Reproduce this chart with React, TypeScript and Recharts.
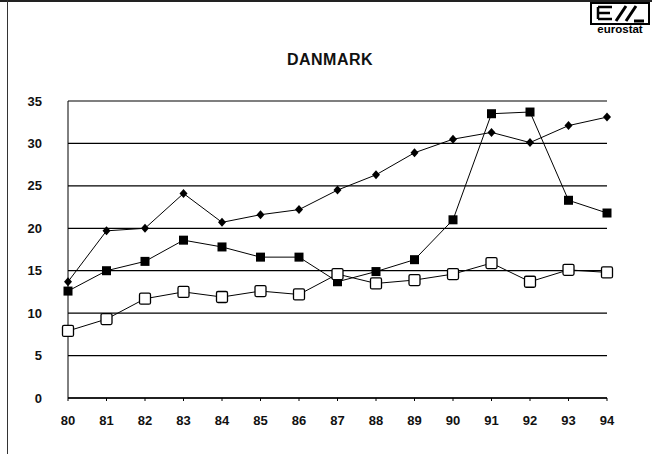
import { LineChart, Line, XAxis, YAxis, CartesianGrid } from 'recharts'

const years = ['80', '81', '82', '83', '84', '85', '86', '87', '88', '89', '90', '91', '92', '93', '94']
const diamondValues = [13.7, 19.7, 20.0, 24.1, 20.7, 21.6, 22.2, 24.5, 26.3, 28.9, 30.5, 31.3, 30.1, 32.1, 33.1]
const filledSquareValues = [12.6, 15.0, 16.1, 18.6, 17.8, 16.6, 16.6, 13.7, 14.9, 16.3, 21.0, 33.5, 33.7, 23.3, 21.8]
const openSquareValues = [7.9, 9.3, 11.7, 12.5, 11.9, 12.6, 12.2, 14.6, 13.5, 13.9, 14.6, 15.9, 13.7, 15.1, 14.8]
const yTicks = [0, 5, 10, 15, 20, 25, 30, 35]

const data = years.map((year, i) => ({
  year,
  diamond: diamondValues[i],
  filled: filledSquareValues[i],
  open: openSquareValues[i],
}))

const font = '"Liberation Sans", Arial, sans-serif'

const DiamondDot = (props: any) => {
  const { cx, cy } = props
  if (cx == null || cy == null) return null
  return <path d={`M${cx},${cy - 4.5} L${cx + 4},${cy} L${cx},${cy + 4.5} L${cx - 4},${cy} Z`} fill="#000" />
}

const FilledSquareDot = (props: any) => {
  const { cx, cy } = props
  if (cx == null || cy == null) return null
  return <rect x={cx - 4.5} y={cy - 4.5} width={9} height={9} fill="#000" />
}

const OpenSquareDot = (props: any) => {
  const { cx, cy } = props
  if (cx == null || cy == null) return null
  return <rect x={cx - 5.5} y={cy - 5.5} width={11} height={11} fill="#fff" stroke="#000" strokeWidth={1.3} rx={1.5} />
}

function EurostatLogo() {
  return (
    <svg width={64} height={34} style={{ position: 'absolute', left: 588, top: 2 }}>
      <rect x={3} y={1} width={58} height={21} fill="none" stroke="#000" strokeWidth={2} />
      <path d="M10,5 H24 M10,11 H22 M10,17 H24 M10,5 V17" stroke="#000" strokeWidth={2.5} fill="none" />
      <path d="M28,19 L38,4 M38,19 L48,4 M46,19 H56" stroke="#000" strokeWidth={3} fill="none" />
      <text x={32} y={31} textAnchor="middle" fontFamily={font} fontWeight="bold" fontSize={11.5} fill="#000">
        eurostat
      </text>
    </svg>
  )
}

const tickStyle = { fill: '#111', fontSize: 13, fontFamily: font, fontWeight: 'bold' as const }

export default function App() {
  return (
    <div style={{ position: 'absolute', left: 0, top: 0, width: 652, height: 454, background: '#fff', overflow: 'hidden' }}>
      <div style={{ position: 'absolute', left: 0, top: 0, width: 652, height: 0, borderTop: '2px solid #222' }} />
      <div style={{ position: 'absolute', left: 7, top: 0, width: 0, height: 454, borderLeft: '1px solid #333' }} />
      <div
        style={{
          position: 'absolute',
          left: 230,
          top: 51,
          width: 200,
          textAlign: 'center',
          fontFamily: font,
          fontWeight: 'bold',
          fontSize: 16,
          letterSpacing: 0.5,
          color: '#111',
        }}
      >
        DANMARK
      </div>
      <EurostatLogo />
      <LineChart width={652} height={454} data={data} margin={{ top: 101, right: 45, left: 0, bottom: 0 }}>
        <CartesianGrid horizontal vertical={false} stroke="#000" strokeWidth={1.2} />
        <XAxis
          dataKey="year"
          height={56}
          axisLine={{ stroke: '#000', strokeWidth: 1.5 }}
          tickLine={{ stroke: '#000' }}
          tickSize={3}
          tickMargin={15}
          tick={tickStyle}
          interval={0}
        />
        <YAxis
          domain={[0, 35]}
          ticks={yTicks}
          width={68}
          axisLine={{ stroke: '#000', strokeWidth: 1 }}
          tickLine={false}
          tickMargin={20}
          tick={tickStyle}
          interval={0}
        />
        <Line dataKey="diamond" stroke="#000" strokeWidth={1} dot={<DiamondDot />} isAnimationActive={false} />
        <Line dataKey="filled" stroke="#000" strokeWidth={1} dot={<FilledSquareDot />} isAnimationActive={false} />
        <Line dataKey="open" stroke="#000" strokeWidth={1} dot={<OpenSquareDot />} isAnimationActive={false} />
      </LineChart>
    </div>
  )
}
